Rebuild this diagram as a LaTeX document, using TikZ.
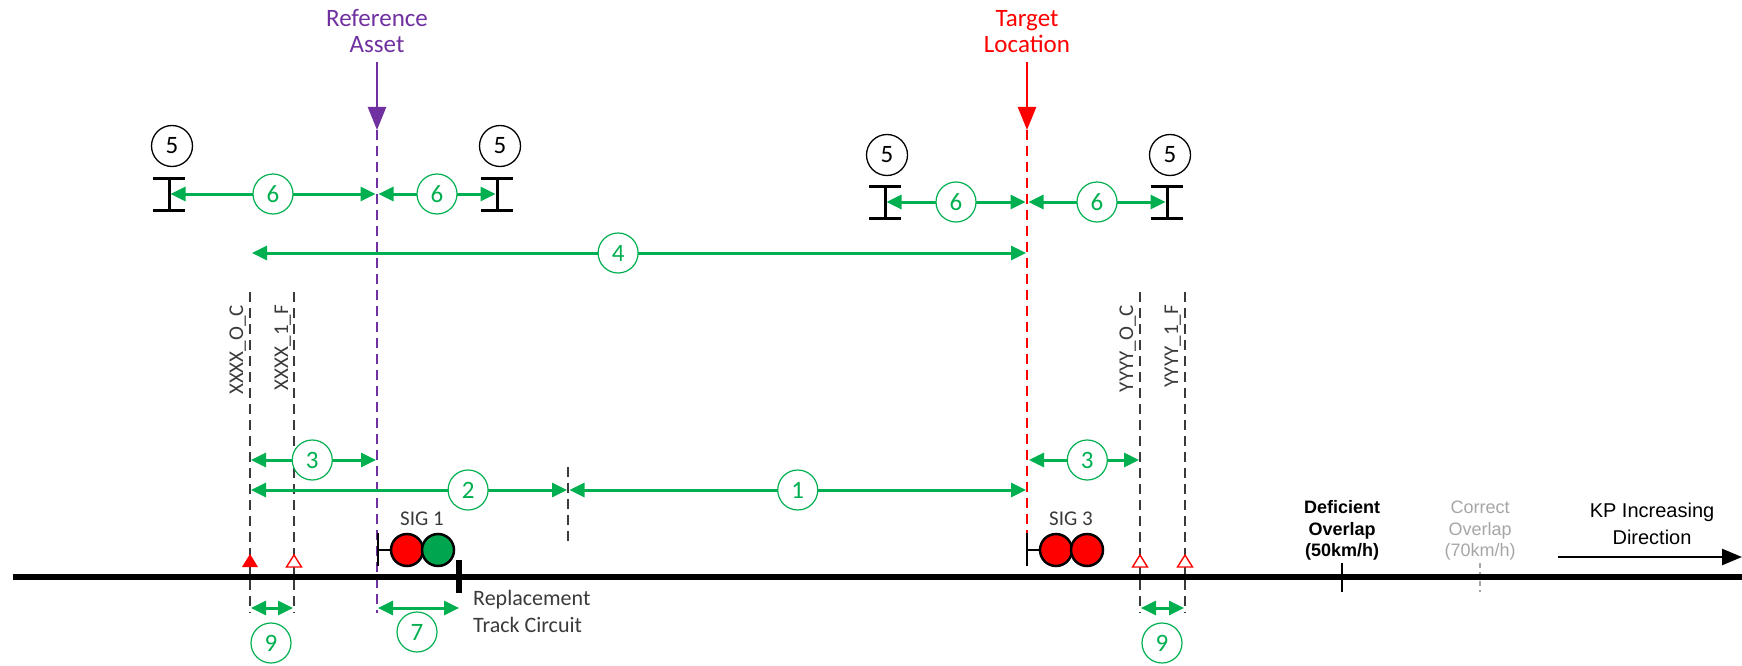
\documentclass[tikz,border=0pt]{standalone}
\usepackage{fontspec}
\setmainfont{Carlito}
\newfontfamily\arialf{Liberation Sans}
\usetikzlibrary{arrows.meta}
\definecolor{gr}{HTML}{00B050}
\definecolor{pu}{HTML}{7030A0}
\definecolor{rd}{HTML}{FF0000}
\definecolor{dg}{HTML}{3A3A3A}
\definecolor{lg}{HTML}{A6A6A6}
\definecolor{sgreen}{HTML}{00A550}
\begin{document}
\begin{tikzpicture}[x=1pt,y=-1pt,
  gtip/.tip={Triangle[length=15pt,width=14pt]},
  garrow/.style={draw=gr, line width=3pt, gtip-gtip},
  numc/.style={circle, draw=gr, line width=1.2pt, fill=white, text=gr, minimum size=40pt, inner sep=0pt, font=\fontsize{25}{25}\selectfont},
  blkc/.style={circle, draw=black, line width=1.3pt, fill=white, text=black, minimum size=41pt, inner sep=0pt, font=\fontsize{25}{25}\selectfont},
  kdash/.style={draw=dg, line width=1.8pt, dash pattern=on 10pt off 6pt},
  pdash/.style={draw=pu, line width=1.8pt, dash pattern=on 10pt off 6pt},
  rdash/.style={draw=rd, line width=1.8pt, dash pattern=on 10pt off 6pt},
  lbl/.style={inner sep=0pt, anchor=base, font=\fontsize{25}{28}\selectfont},
  sml/.style={inner sep=0pt, anchor=base, font=\fontsize{22}{26}\selectfont, text=dg},
  vlbl/.style={inner sep=0pt, rotate=90, anchor=base east, font=\fontsize{21}{24}\selectfont, text=dg},
  ovl/.style={inner sep=0pt, anchor=base, font=\arialf\fontsize{18}{21}\selectfont},
  bovl/.style={ovl, font=\arialf\bfseries\fontsize{18}{21}\selectfont},
  kpl/.style={inner sep=0pt, anchor=base, font=\arialf\fontsize{20}{24}\selectfont},
  ibeam/.style={line width=3pt, draw=black},
  lamp/.style={circle, draw=black, line width=2.5pt, minimum size=32pt, inner sep=0pt}
]
\useasboundingbox (0,0) rectangle (1742,666);

% ---------- key coordinates
\coordinate (refT) at (377,62);  \coordinate (refB) at (377,130); \coordinate (refE) at (377,613);
\coordinate (tgtT) at (1027,62); \coordinate (tgtB) at (1027,130); \coordinate (tgtE) at (1027,533);
\coordinate (xoT) at (250,292); \coordinate (xoB) at (250,613);
\coordinate (xfT) at (294,292); \coordinate (xfB) at (294,613);
\coordinate (yoT) at (1140,292); \coordinate (yoB) at (1140,613);
\coordinate (yfT) at (1185,292); \coordinate (yfB) at (1185,613);
\coordinate (midT) at (568,467); \coordinate (midB) at (568,542);
\coordinate (trL) at (13,577); \coordinate (trR) at (1742,577);

% ---------- titles
\node[lbl, text=pu] (refl1) at (377,27) {Reference};
\node[lbl, text=pu] (refl2) at (377,53) {Asset};
\node[lbl, text=rd] (tgtl1) at (1027,27) {Target};
\node[lbl, text=rd] (tgtl2) at (1027,53) {Location};
\draw[pu, line width=2.5pt, -{Triangle[length=23pt,width=18pt]}] (refT) -- (refB);
\draw[rd, line width=2.5pt, -{Triangle[length=23pt,width=18pt]}] (tgtT) -- (tgtB);

% ---------- dashed verticals
\draw[pdash] (refB) -- (refE);
\draw[rdash] (tgtB) -- (tgtE);
\draw[kdash] (xoT) -- (xoB);
\draw[kdash] (xfT) -- (xfB);
\draw[kdash] (yoT) -- (yoB);
\draw[kdash] (yfT) -- (yfB);
\draw[kdash] (midT) -- (midB);

% vertical labels
\node[vlbl] (lxo) at (243,305) {XXXX\_O\_C};
\node[vlbl] (lxf) at (288,305) {XXXX\_1\_F};
\node[vlbl] (lyo) at (1133,305) {YYYY\_O\_C};
\node[vlbl] (lyf) at (1178,305) {YYYY\_1\_F};

% ---------- I-beams (5)
\foreach \n/\x/\y in {a/169/194, b/497/194, c/885/202, d/1167/202}{
  \draw[ibeam] (\x-16,\y-16) -- (\x+16,\y-16);
  \draw[ibeam] (\x-16,\y+16) -- (\x+16,\y+16);
  \draw[ibeam] (\x,\y-16) -- (\x,\y+16);
  \coordinate (ib\n) at (\x+1.5,\y);
}
\node[blkc] (c5a) at (172,146) {5};
\node[blkc] (c5b) at (500,146) {5};
\node[blkc] (c5c) at (887,155) {5};
\node[blkc] (c5d) at (1170,155) {5};

% ---------- arrows 6
\coordinate (r6L) at (375.5,194); \coordinate (r6R) at (378.5,194);
\coordinate (t6L) at (1025.5,202); \coordinate (t6R) at (1028.5,202);
\draw[garrow] (iba) -- (r6L) node[numc, pos=0.5] (c6a) {6};
\draw[garrow] (r6R) -- ([xshift=-3pt]ibb) node[numc, pos=0.5] (c6b) {6};
\draw[garrow] (ibc) -- (t6L) node[numc, pos=0.5] (c6c) {6};
\draw[garrow] (t6R) -- ([xshift=-3pt]ibd) node[numc, pos=0.5] (c6d) {6};

% ---------- arrow 4
\coordinate (a4L) at (252,253); \coordinate (a4R) at (1026,253);
\draw[garrow] (a4L) -- (a4R) node[numc, pos=0.473] (c4) {4};

% ---------- arrows 3, 2, 1
\coordinate (a3L) at (251,460); \coordinate (a3R) at (376,460);
\draw[garrow] (a3L) -- (a3R) node[numc, pos=0.49] (c3a) {3};
\coordinate (b3L) at (1029,460); \coordinate (b3R) at (1139,460);
\draw[garrow] (b3L) -- (b3R) node[numc, pos=0.53] (c3b) {3};
\coordinate (a2L) at (251,490); \coordinate (a2R) at (567,490);
\draw[garrow] (a2L) -- (a2R) node[numc, pos=0.687] (c2) {2};
\coordinate (a1L) at (569.5,490); \coordinate (a1R) at (1026,490);
\draw[garrow] (a1L) -- (a1R) node[numc, pos=0.5] (c1) {1};

% ---------- ticks on track
\draw[black, line width=2pt] (1342,563) -- (1342,592);
\draw[lg, line width=1.6pt, dash pattern=on 5pt off 4pt] (1480,563) -- (1480,592);

% ---------- track
\draw[black, line width=6pt] (trL) -- (trR);

% ---------- signal 1
\coordinate (s1b) at (378,550);
\draw[black, line width=2.5pt] (378,533) -- (378,566);
\node[lamp, fill=rd] (s1r) at (407,550) {};
\node[lamp, fill=sgreen] (s1g) at (438,550) {};
\draw[black, line width=2.5pt] (s1b) -- (s1r);
\node[inner sep=0pt, anchor=base, font=\fontsize{21}{24}\selectfont, text=dg] (sig1) at (422,525) {SIG 1};
% block joint
\draw[black, line width=6pt] (459,560) -- (459,593);
\coordinate (bj) at (459,608);

% ---------- signal 3
\coordinate (s3b) at (1027,550);
\draw[black, line width=2.5pt] (1027,533) -- (1027,566);
\node[lamp, fill=rd] (s3r) at (1056,550) {};
\node[lamp, fill=rd] (s3s) at (1087,550) {};
\draw[black, line width=2.5pt] (s3b) -- (s3r);
\node[inner sep=0pt, anchor=base, font=\fontsize{21}{24}\selectfont, text=dg] (sig3) at (1071,525) {SIG 3};

% ---------- triangles
\fill[rd] (242,567) -- (258,567) -- (250,554) -- cycle;
\foreach \x in {294,1140,1185}{
  \draw[rd, line width=1.4pt, fill=white] (\x-7.5,567) -- (\x+7.5,567) -- (\x,555) -- cycle;
}

% ---------- replacement track circuit
\node[sml, anchor=base west] (rep1) at (473,605) {Replacement};
\node[sml, anchor=base west] (rep2) at (473,632) {Track Circuit};

% ---------- arrows 9 and 7
\coordinate (n9aL) at (251,608); \coordinate (n9aR) at (293,608);
\draw[garrow] (n9aL) -- (n9aR);
\node[numc] (c9a) at (271,643) {9};
\coordinate (n7L) at (378,608);
\draw[garrow] (n7L) -- (bj);
\node[numc] (c7) at (417,632) {7};
\coordinate (n9bL) at (1141,608); \coordinate (n9bR) at (1184,608);
\draw[garrow] (n9bL) -- (n9bR);
\node[numc] (c9b) at (1162,643) {9};

% ---------- overlap labels
\node[bovl] (dov1) at (1342,513) {Deficient};
\node[bovl] (dov2) at (1342,535) {Overlap};
\node[bovl] (dov3) at (1342,556) {(50km/h)};
\node[ovl, text=lg] (cov1) at (1480,513) {Correct};
\node[ovl, text=lg] (cov2) at (1480,535) {Overlap};
\node[ovl, text=lg] (cov3) at (1480,556) {(70km/h)};

% ---------- KP direction
\node[kpl] (kp1) at (1652,517) {KP Increasing};
\node[kpl] (kp2) at (1652,544) {Direction};
\coordinate (kpL) at (1558,557); \coordinate (kpR) at (1742,557);
\draw[black, line width=2.5pt, -{Triangle[length=20pt,width=16pt]}] (kpL) -- (kpR);
\end{tikzpicture}
\end{document}
